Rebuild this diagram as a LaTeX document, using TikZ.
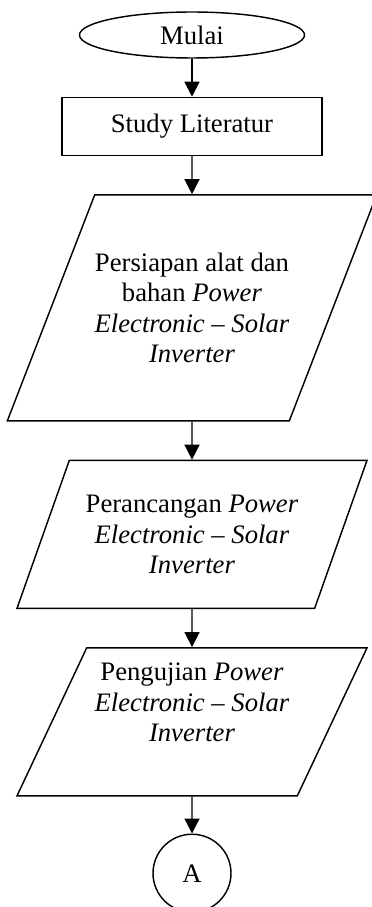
\documentclass[tikz,border=0pt]{standalone}
\usepackage{fontspec}
\setmainfont{Liberation Serif}
\usetikzlibrary{positioning,arrows.meta,shapes.geometric}

\begin{document}
\begin{tikzpicture}[x=0.45pt,y=-0.45pt,>={Triangle[length=6.75pt,width=6.75pt]},
  node distance=17.1pt,line width=0.65pt,
  font=\fontsize{12}{13.6}\selectfont,
  terminal/.style={draw,ellipse,inner sep=0pt,minimum width=101.25pt,minimum height=20.7pt},
  process/.style={draw,rectangle,inner sep=0pt,minimum width=117pt,minimum height=26.1pt},
  iobox/.style={draw,trapezium,trapezium left angle=#1,trapezium right angle=180-#1,
    trapezium stretches body,inner sep=0pt,align=center,minimum width=157.5pt,minimum height=66.6pt},
  connector/.style={draw,circle,inner sep=0pt,minimum size=35.1pt}]
\useasboundingbox (0,0) rectangle (371,907);
\node[terminal] (mulai) at (192,35) {Mulai};
\node[process] (studi) [below=of mulai] {Study Literatur};
\node[iobox=51.4,minimum width=163.35pt,minimum height=101.7pt]
  (persiapan) [below=of studi] {Persiapan alat dan\\ bahan \textit{Power}\\ \textit{Electronic -- Solar}\\ \textit{Inverter}};
\node[iobox=56.2] (rancang) [below=of persiapan] {Perancangan \textit{Power}\\ \textit{Electronic -- Solar}\\ \textit{Inverter}};
\node[iobox=59.3] (uji) [below=of rancang] {Pengujian \textit{Power}\\ \textit{Electronic -- Solar}\\ \textit{Inverter}\\ \strut};
\node[connector] (a) [below=16.6pt of uji] {A};
\draw[->] (mulai) -- (studi);
\draw[->] (studi) -- (persiapan);
\draw[->] (persiapan) -- (rancang);
\draw[->] (rancang) -- (uji);
\draw[->] (uji) -- (a);
\end{tikzpicture}
\end{document}
